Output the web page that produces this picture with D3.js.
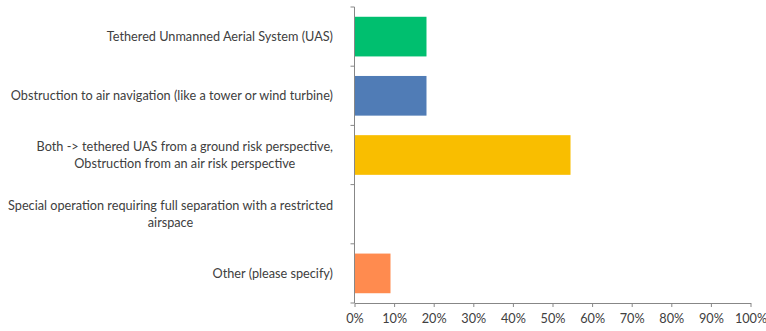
<!DOCTYPE html>
<html><head><meta charset="utf-8">
<script src="https://cdn.jsdelivr.net/npm/d3@7"></script>
<style>body{margin:0;background:#fff}svg{display:block}</style>
</head><body>
<script>
const categories = [
  ["Tethered Unmanned Aerial System (UAS)"],
  ["Obstruction to air navigation (like a tower or wind turbine)"],
  ["Both -> tethered UAS from a ground risk perspective,", "Obstruction from an air risk perspective"],
  ["Special operation requiring full separation with a restricted", "airspace"],
  ["Other (please specify)"]
];
const values = [0.1818, 0.1818, 0.5455, 0, 0.0909];
const barColors = ["#00BF6F", "#507CB6", "#F9BE00", "#FFFFFF", "#FF8B4F"];
const xTicks = [0, 0.1, 0.2, 0.3, 0.4, 0.5, 0.6, 0.7, 0.8, 0.9, 1.0];

(function () {
const W = 766, H = 331;
const svg = d3.select("body").append("svg").attr("width", W).attr("height", H);
const mLeft = 354.5, mRight = 750.5, mTop = 7, mBottom = 303;
const font = "Lato, 'Open Sans', sans-serif";
const axisColor = "#878787";
const textColor = "#404040";

const x = d3.scaleLinear().domain([0, 1]).range([mLeft, mRight]);
const yOuter = d3.scaleBand().domain(d3.range(categories.length)).range([mTop, mBottom]).padding(0);
const y = d3.scaleBand().domain(d3.range(categories.length)).range([mTop, mBottom]).paddingInner(0.33).paddingOuter(0.165);

svg.append("g").selectAll("rect").data(values).join("rect")
  .attr("x", x(0))
  .attr("y", (d, i) => y(i))
  .attr("width", d => x(d) - x(0))
  .attr("height", y.bandwidth())
  .attr("fill", (d, i) => barColors[i]);

const xAxis = d3.axisBottom(x).tickValues(xTicks).tickFormat(d3.format(".0%")).tickSize(4).tickSizeOuter(0);
const gx = svg.append("g").attr("transform", `translate(0,${mBottom})`).call(xAxis);
gx.select(".domain").attr("stroke", axisColor);
gx.selectAll(".tick line").attr("stroke", axisColor);
gx.selectAll(".tick text").attr("fill", textColor).attr("font-family", font).attr("font-size", 12.7).attr("dy", "1.05em");

const gy = svg.append("g");
gy.append("line").attr("x1", mLeft).attr("x2", mLeft).attr("y1", mTop).attr("y2", mBottom).attr("stroke", axisColor);
const bounds = d3.range(categories.length + 1).map(i => i < categories.length ? yOuter(i) : mBottom);
gy.selectAll("line.t").data(bounds).join("line").attr("class", "t")
  .attr("x1", mLeft - 4).attr("x2", mLeft).attr("y1", d => d).attr("y2", d => d).attr("stroke", axisColor);

const labelRight = 333;
const lh = 17;
categories.forEach((lines, i) => {
  const cy = yOuter(i) + yOuter.bandwidth() / 2;
  const t = svg.append("text").attr("font-family", font).attr("font-size", 12.7).attr("fill", textColor);
  const tmp = [];
  lines.forEach((ln, j) => {
    const ts = t.append("tspan").text(ln)
      .attr("y", cy + (j - (lines.length - 1) / 2) * lh).attr("dy", "0.35em");
    tmp.push(ts);
  });
  const widths = tmp.map(ts => ts.node().getComputedTextLength());
  const maxW = d3.max(widths);
  const cx = labelRight - maxW / 2;
  tmp.forEach(ts => ts.attr("x", cx).attr("text-anchor", "middle"));
});
})();
</script>
</body></html>
